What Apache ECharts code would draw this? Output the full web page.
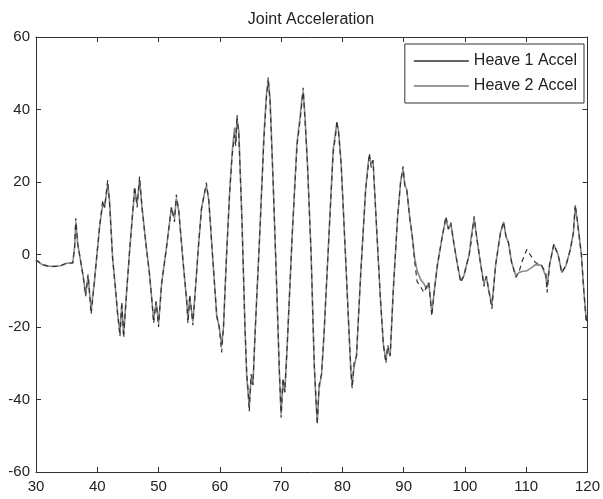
<!DOCTYPE html>
<html>
<head>
<meta charset="utf-8">
<script src="https://cdn.jsdelivr.net/npm/echarts@6/dist/echarts.min.js"></script>
<style>html,body{margin:0;padding:0;background:#fff;}#c{width:603px;height:499px;}</style>
</head>
<body>
<div id="c"></div>
<script>
var chartTitle = 'Joint Acceleration';
var seriesNames = ['Heave 1 Accel', 'Heave 2 Accel'];
var xTicks = [30, 40, 50, 60, 70, 80, 90, 100, 110, 120];
var yTicks = [-60, -40, -20, 0, 20, 40, 60];

var heave1X = [30,31,32,33,34,35,36,36.3,36.5,36.8,37.2,37.7,38.1,38.5,39.0,39.5,40.0,40.4,40.9,41.2,41.7,42.0,42.5,43.0,43.3,43.7,44.0,44.3,44.8,45.3,45.8,46.1,46.5,46.9,47.3,48.0,48.5,48.9,49.2,49.6,50.0,50.5,51.3,52.1,52.6,52.9,53.3,54.0,54.6,54.8,55.1,55.6,56.0,56.5,57.0,57.5,57.8,58.2,58.8,59.5,59.9,60.3,60.6,61.1,61.6,62.0,62.4,62.6,62.8,63.1,63.6,64.1,64.4,64.6,64.8,65.1,65.4,65.8,66.5,67.2,67.6,67.9,68.2,68.7,69.3,69.7,70.0,70.3,70.6,71.0,71.8,72.6,73.1,73.4,73.6,73.9,74.3,74.9,75.4,75.7,75.9,76.2,76.6,77.0,77.8,78.5,78.9,79.1,79.4,79.8,80.5,81.1,81.4,81.6,81.9,82.3,83.0,83.8,84.2,84.4,84.7,85.0,85.5,86.2,86.7,87.1,87.4,87.8,88.3,89.0,89.5,89.9,90.2,90.5,91.0,91.4,91.8,92.2,92.8,93.3,93.7,94.1,94.6,95.0,95.5,96.3,96.9,97.3,97.7,98.2,98.8,99.3,99.8,100.2,100.7,101.0,101.5,101.9,102.5,103.1,103.5,103.9,104.4,105.0,105.8,106.3,106.7,107.1,107.6,108.3,108.8,109.3,110.1,111.0,111.5,112.5,113.2,113.4,113.8,114.5,115.2,115.8,116.5,117.2,117.7,118.0,118.3,118.6,119.0,119.4,119.8,120];
var heave1Y = [-1.5,-2.8,-3.2,-3.3,-3.1,-2.4,-2.3,2,10,3,-1,-6,-11.5,-5.5,-16.5,-8,1,8,15,13,20.5,14,-1,-10,-16,-22.6,-13,-23,-10,1.5,12,18.8,13,21.5,13,2,-5,-12.4,-19,-13,-20,-8,2,13,9,16.5,12,-2,-13,-19,-11,-19.5,-10,2,12.5,17,19.8,15,0,-17,-20,-27,-20,0,17,27,33,30,38.5,33,10,-20,-33,-37,-43.3,-33,-36,-20,5,32,43,48.8,42,20,-10,-31,-45,-34,-38,-25,5,30,37,42,46,37,25,0,-30,-40,-47,-36,-33,-22,5,28,33,37,33,25,0,-22,-32,-37,-30,-28,-5,18,24,28,24,26,10,-12,-25,-30,-25,-28,-10,10,20,24.3,19,18,10,5,-2,-7.5,-9,-10.5,-9,-7.7,-17,-10,-3,5,10.5,7,8.8,3,-3,-7.7,-6,-3.3,0,3.3,10.5,5,-2,-8.8,-6,-10,-15,-3,6,9,5,3.3,-2,-6.3,-5,-2,1.4,-1,-2.2,-3,-5,-10.5,-3,2.8,0,-5,-3,1.4,6,13.8,10,9.7,0,-10,-18.8,-17];

var heave2X = [30,31,32,33,34,35,36,36.3,36.5,36.8,37.2,37.7,38.1,38.5,39.0,39.5,40.0,40.4,40.9,41.2,41.7,42.0,42.5,43.0,43.3,43.7,44.0,44.3,44.8,45.3,45.8,46.1,46.5,46.9,47.3,48.0,48.5,48.9,49.2,49.6,50.0,50.5,51.3,52.1,52.6,52.9,53.3,54.0,54.6,54.8,55.1,55.6,56.0,56.5,57.0,57.5,57.8,58.2,58.8,59.5,59.9,60.3,60.6,61.1,61.6,62.0,62.4,62.6,62.8,63.1,63.6,64.1,64.4,64.6,64.8,65.1,65.4,65.8,66.5,67.2,67.6,67.9,68.2,68.7,69.3,69.7,70.0,70.3,70.6,71.0,71.8,72.6,73.1,73.4,73.6,73.9,74.3,74.9,75.4,75.7,75.9,76.2,76.6,77.0,77.8,78.5,78.9,79.1,79.4,79.8,80.5,81.1,81.4,81.6,81.9,82.3,83.0,83.8,84.2,84.4,84.7,85.0,85.5,86.2,86.7,87.1,87.4,87.8,88.3,89.0,89.5,89.9,90.2,90.5,91.0,91.4,91.8,92.2,92.8,93.3,93.7,94.1,94.6,95.0,95.5,96.3,96.9,97.3,97.7,98.2,98.8,99.3,99.8,100.2,100.7,101.0,101.5,101.9,102.5,103.1,103.5,103.9,104.4,105.0,105.8,106.3,106.7,107.1,107.6,108.3,108.8,109.3,110.1,111.0,111.5,112.5,113.2,113.4,113.8,114.5,115.2,115.8,116.5,117.2,117.7,118.0,118.3,118.6,119.0,119.4,119.8,120];
var heave2Y = [-1.5,-2.8,-3.2,-3.3,-3.1,-2.4,-2.3,2,9,3,-1,-6,-11,-6,-15.5,-8,1,8,14,13,19.5,15,-1,-10,-16,-21.5,-14,-22,-10,1.5,12,18,14,20.5,13,2,-5,-12.4,-18,-13,-19,-8,2,13,10,15.5,12,-2,-13,-18,-12,-18.5,-10,2,12.5,17,19,15,0,-17,-20,-25,-20,0,17,28,35,31,37.5,34,10,-20,-34,-38,-42,-34,-36,-20,5,33,44,48,43,20,-10,-32,-44,-35,-38,-25,5,31,38,43,45,38,25,0,-30,-41,-46,-37,-33,-22,5,29,34,36,34,25,0,-22,-33,-36,-31,-28,-5,18,25,27,25,26,10,-12,-25,-29,-26,-28,-10,10,20,23.5,19,18,10,5,-1,-4.5,-7,-8,-9.5,-7.7,-16,-10,-3,5,10,7,8.5,3,-3,-7.2,-6,-3.3,0,4.5,10,5,-2,-8,-6,-10,-14,-3,6,9,5,3.3,-2,-5.8,-5,-4.7,-4.5,-3.5,-2.8,-3,-6,-9,-3,2.8,0,-5,-3,1.4,6,13,10,9.7,0,-10,-18,-17];

function pairs(xs, ys) { var out = []; for (var i = 0; i < xs.length; i++) out.push([xs[i], ys[i]]); return out; }

var chart = echarts.init(document.getElementById('c'), null, {renderer: 'canvas'});
var font = 'Liberation Sans, Arial, sans-serif';
var axisCommon = {
  type: 'value', interval: 10, min: xTicks[0], max: xTicks[xTicks.length - 1],
  axisLine: {show: true, onZero: false, lineStyle: {color: '#333', width: 1}},
  axisTick: {show: true, inside: true, length: 5, lineStyle: {color: '#333'}},
  splitLine: {show: false}
};
chart.setOption({
  animation: false,
  backgroundColor: '#fff',
  title: {text: chartTitle, left: 306, top: 7, textAlign: 'center',
    textStyle: {fontFamily: font, fontSize: 16, fontWeight: 'normal', color: '#222'}},
  grid: {left: 36, right: 14, top: 37, bottom: 27, containLabel: false},
  legend: {
    orient: 'vertical', right: 19, top: 44, itemWidth: 55, itemHeight: 1.5, itemGap: 9,
    icon: 'rect',
    padding: [9, 7, 9, 9], borderColor: '#333', borderWidth: 1, backgroundColor: '#fff',
    textStyle: {fontFamily: font, fontSize: 16, color: '#222', padding: [0, 0, 0, 0], lineHeight: 15},
    data: [{name: seriesNames[0], itemStyle: {color: '#333'}}, {name: seriesNames[1], itemStyle: {color: '#777'}}]
  },
  xAxis: [
    Object.assign({}, axisCommon, {position: 'bottom',
      axisLabel: {show: true, margin: 7, fontFamily: font, fontSize: 15, color: '#222'}}),
    Object.assign({}, axisCommon, {position: 'top', axisLabel: {show: false}})
  ],
  yAxis: [
    Object.assign({}, axisCommon, {interval: 20, min: yTicks[0], max: yTicks[yTicks.length - 1], position: 'left',
      axisLabel: {show: true, margin: 6, fontFamily: font, fontSize: 15, color: '#222'}}),
    Object.assign({}, axisCommon, {interval: 20, min: yTicks[0], max: yTicks[yTicks.length - 1], position: 'right',
      axisLabel: {show: false}})
  ],
  series: [
    {name: seriesNames[1], type: 'line', symbol: 'none', data: pairs(heave2X, heave2Y), z: 2,
      lineStyle: {color: '#8a8a8a', width: 1.6}, itemStyle: {color: '#8a8a8a'}},
    {name: seriesNames[0], type: 'line', symbol: 'none', data: pairs(heave1X, heave1Y), z: 3,
      lineStyle: {color: '#333', width: 1.2, type: [5, 4]}, itemStyle: {color: '#333'}}
  ]
});
</script>
</body>
</html>
